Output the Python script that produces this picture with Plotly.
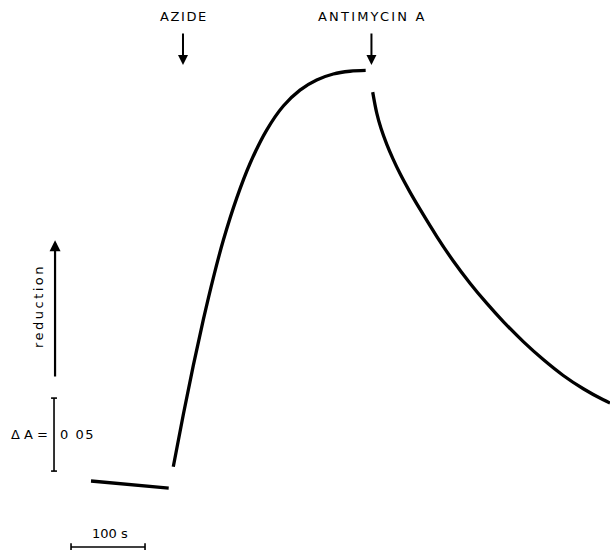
import plotly.graph_objects as go

# Absorbance trace (time in s, change in absorbance) -- cytochrome reduction
baseline_t = [0, 105]
baseline_a = [0.0, -0.0048]

rise_t = [111.2, 124.7, 138.2, 151.8, 165.3, 178.8, 196.9, 214.9, 237.4, 259.9,
          282.4, 305.0, 327.4, 350.0, 371.2]
rise_a = [0.0098, 0.0454, 0.0790, 0.1105, 0.1392, 0.1649, 0.1938, 0.2175, 0.2404,
          0.2569, 0.2678, 0.2747, 0.2788, 0.2807, 0.2813]

decay_t = [380.7, 386.1, 391.9, 399.6, 408.1, 417.6, 431.1, 444.6, 467.6, 489.6,
           512.2, 534.7, 557.2, 584.2, 611.2, 638.2, 665.3, 692.3, 701.4]
decay_a = [0.2664, 0.2522, 0.2416, 0.2308, 0.2207, 0.2106, 0.1979, 0.1862, 0.1673,
           0.1507, 0.1355, 0.1218, 0.1092, 0.0955, 0.0832, 0.0723, 0.0632, 0.0556, 0.0534]

# Additions (time of addition, label)
additions_t = [124.3, 379.0]
additions_label = ["AZIDE", "ANTIMYCIN A"]
additions_spacing = [1.6, 2.2]

# Scale bars
scale_da = 0.05
scale_t = 100

X_RANGE = [-123.0, 701.4]
Y_RANGE = [-0.04726, 0.3295]

ink = "#000000"
font = dict(family="DejaVu Sans", size=13, color=ink)


def spaced(text, px):
    return f'<span style="letter-spacing:{px}px">{text}</span>'


fig = go.Figure()
for tx, ay in [(baseline_t, baseline_a), (rise_t, rise_a), (decay_t, decay_a)]:
    fig.add_trace(go.Scatter(x=tx, y=ay, mode="lines",
                             line=dict(color=ink, width=3.3, shape="spline", smoothing=1.0),
                             hoverinfo="skip", showlegend=False))

# ΔA scale bar
bar_x = -50
bar_y0 = 0.0068
fig.add_trace(go.Scatter(x=[bar_x, bar_x], y=[bar_y0, bar_y0 + scale_da], mode="lines",
                         line=dict(color=ink, width=1.6), hoverinfo="skip", showlegend=False))
for yy in [bar_y0, bar_y0 + scale_da]:
    fig.add_trace(go.Scatter(x=[bar_x - 4, bar_x + 4], y=[yy, yy], mode="lines",
                             line=dict(color=ink, width=1.6), hoverinfo="skip", showlegend=False))
fig.add_annotation(x=bar_x - 6, y=bar_y0 + scale_da / 2, text="Δ A =", showarrow=False,
                   xanchor="right", yanchor="middle", font=font)
fig.add_annotation(x=bar_x + 6, y=bar_y0 + scale_da / 2, text=spaced("0 05", 1.5),
                   showarrow=False, xanchor="left", yanchor="middle", font=font)

# time scale bar
tb_x0 = -27
tb_y = -0.0452
fig.add_trace(go.Scatter(x=[tb_x0, tb_x0 + scale_t], y=[tb_y, tb_y], mode="lines",
                         line=dict(color=ink, width=1.6), hoverinfo="skip", showlegend=False))
for xx in [tb_x0, tb_x0 + scale_t]:
    fig.add_trace(go.Scatter(x=[xx, xx], y=[tb_y - 0.0025, tb_y + 0.0025], mode="lines",
                             line=dict(color=ink, width=1.6), hoverinfo="skip", showlegend=False))
fig.add_annotation(x=tb_x0 + scale_t / 2 + 2, y=tb_y + 0.003, text="100 s", showarrow=False,
                   xanchor="center", yanchor="bottom", font=font)

# reduction arrow
fig.add_annotation(x=-48.6, y=0.165, ax=-48.6, ay=0.0705, xref="x", yref="y",
                   axref="x", ayref="y", text="", showarrow=True, arrowhead=2,
                   arrowsize=1.0, arrowwidth=2.2, arrowcolor=ink)
fig.add_annotation(x=-70, y=0.120, text=spaced("reduction", 2.5), textangle=-90,
                   showarrow=False, xanchor="center", yanchor="middle", font=font)

# addition markers
for t, lab, sp in zip(additions_t, additions_label, additions_spacing):
    fig.add_annotation(x=t, y=0.2850, ax=t, ay=0.3075, xref="x", yref="y",
                       axref="x", ayref="y", text="", showarrow=True, arrowhead=2,
                       arrowsize=1.0, arrowwidth=2.0, arrowcolor=ink)
    fig.add_annotation(x=t + 2, y=0.3180, text=spaced(lab, sp), showarrow=False,
                       xanchor="center", yanchor="middle", font=font)

fig.update_xaxes(range=X_RANGE, visible=False, fixedrange=True)
fig.update_yaxes(range=Y_RANGE, visible=False, fixedrange=True)
fig.update_layout(width=610, height=550, margin=dict(l=0, r=0, t=0, b=0),
                  plot_bgcolor="white", paper_bgcolor="white")

fig.write_html("out.html")
